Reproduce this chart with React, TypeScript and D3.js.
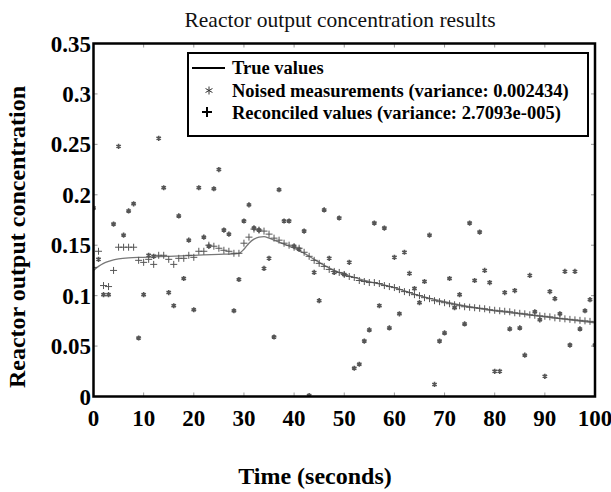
import React from "react";
import * as d3 from "d3";

const title = "Reactor output concentration results";
const xTitle = "Time (seconds)";
const yTitle = "Reactor output concentration";
const xTicks = [0, 10, 20, 30, 40, 50, 60, 70, 80, 90, 100];
const yTicks = [0, 0.05, 0.1, 0.15, 0.2, 0.25, 0.3, 0.35];
const yTickLabels = ["0", "0.05", "0.1", "0.15", "0.2", "0.25", "0.3", "0.35"];
const legendLabels = [
  "True values",
  "Noised measurements (variance: 0.002434)",
  "Reconciled values (variance: 2.7093e-005)",
];

const noised = [
  0.187, 0.136, 0.101, 0.101, 0.171, 0.248, 0.160, 0.184, 0.191, 0.058,
  0.101, 0.140, 0.139, 0.256, 0.207, 0.103, 0.090, 0.179, 0.117, 0.155,
  0.086, 0.207, 0.158, 0.149, 0.206, 0.225, 0.165, 0.161, 0.085, 0.116,
  0.174, 0.190, 0.167, 0.165, 0.127, 0.137, 0.059, 0.205, 0.174, 0.174,
  0.149, 0.146, 0.164, 0.001, 0.123, 0.095, 0.185, 0.137, 0.123, 0.177,
  0.121, 0.133, 0.028, 0.032, 0.055, 0.066, 0.172, 0.090, 0.167, 0.068,
  0.138, 0.082, 0.143, 0.122, 0.107, 0.093, 0.114, 0.160, 0.012, 0.055,
  0.063, 0.117, 0.088, 0.101, 0.072, 0.172, 0.115, 0.163, 0.125, 0.113,
  0.025, 0.025, 0.103, 0.067, 0.105, 0.068, 0.041, 0.120, 0.084, 0.076,
  0.020, 0.104, 0.097, 0.082, 0.124, 0.051, 0.124, 0.067, 0.085, 0.096,
  0.051,
];

const reconciled = [
  0.128, 0.144, 0.110, 0.109, 0.125, 0.148, 0.148, 0.148, 0.148, 0.135,
  0.133, 0.136, 0.131, 0.140, 0.140, 0.136, 0.131, 0.137, 0.137, 0.140,
  0.138, 0.144, 0.144, 0.150, 0.149, 0.147, 0.145, 0.144, 0.142, 0.142,
  0.152, 0.158, 0.166, 0.165, 0.164, 0.161, 0.157, 0.155, 0.152, 0.150,
  0.148, 0.147, 0.143, 0.139, 0.135, 0.132, 0.129, 0.126, 0.124, 0.123,
  0.121, 0.119, 0.118, 0.115, 0.114, 0.113, 0.113, 0.112, 0.110, 0.109,
  0.108, 0.106, 0.104, 0.103, 0.101, 0.100, 0.098, 0.097, 0.095, 0.094,
  0.093, 0.092, 0.091, 0.090, 0.089, 0.0885, 0.088, 0.0875, 0.087, 0.086,
  0.0855, 0.085, 0.0845, 0.084, 0.083, 0.0825, 0.082, 0.081, 0.0805, 0.080,
  0.0795, 0.079, 0.078, 0.0775, 0.077, 0.0765, 0.076, 0.0755, 0.075, 0.0745,
  0.074,
];

const trueTimes = [0, 1, 2, 3, 4, 5, 7, 10, 15, 20, 25, 28, 29, 30, 31, 32, 33, 34, 35, 36, 38, 40, 42, 44, 46, 48, 50, 55, 60, 65, 70, 75, 80, 85, 90, 95, 100];
const trueValues = [0.125, 0.129, 0.132, 0.134, 0.1355, 0.1365, 0.1375, 0.138, 0.139, 0.140, 0.141, 0.1415, 0.142, 0.146, 0.152, 0.156, 0.158, 0.1585, 0.157, 0.155, 0.151, 0.147, 0.142, 0.136, 0.130, 0.125, 0.121, 0.114, 0.108, 0.100, 0.094, 0.089, 0.085, 0.082, 0.079, 0.076, 0.073];

const W = 611;
const H = 492;
const L = 93.5, R = 595, T = 43.5, B = 396.5;

export default function App() {
  const x = d3.scaleLinear().domain([0, 100]).range([L, R]);
  const y = d3.scaleLinear().domain([0, 0.35]).range([B, T]);
  const times = d3.range(0, noised.length);

  const line = d3
    .line<number>()
    .x((_, i) => x(trueTimes[i]))
    .y((d) => y(d))
    .curve(d3.curveMonotoneX);

  const star = (cx: number, cy: number, r: number) => {
    const parts: string[] = [];
    [90, 30, -30].forEach((a) => {
      const rad = (a * Math.PI) / 180;
      const dx = r * Math.cos(rad), dy = r * Math.sin(rad);
      parts.push(`M${cx - dx},${cy - dy}L${cx + dx},${cy + dy}`);
    });
    return parts.join("");
  };
  const plus = (cx: number, cy: number, r: number) =>
    `M${cx - r},${cy}L${cx + r},${cy}M${cx},${cy - r}L${cx},${cy + r}`;

  const serif = "'Liberation Serif', 'Times New Roman', serif";

  return (
    <svg width={W} height={H} style={{ position: "absolute", left: 0, top: 0, background: "#fff" }}>
      <rect x={0} y={0} width={W} height={H} fill="#fff" />
      <text x={340} y={27} textAnchor="middle" fontFamily={serif} fontSize={21.5} fill="#111">
        {title}
      </text>
      <defs>
        <clipPath id="plotclip">
          <rect x={L} y={T} width={R - L} height={B - T} />
        </clipPath>
      </defs>
      {xTicks.map((t) => (
        <g key={"xt" + t} stroke="#999" strokeWidth={1}>
          <line x1={x(t)} x2={x(t)} y1={B} y2={B - 4} />
          <line x1={x(t)} x2={x(t)} y1={T} y2={T + 4} />
        </g>
      ))}
      {yTicks.map((t) => (
        <g key={"yt" + t} stroke="#999" strokeWidth={1}>
          <line x1={L} x2={L + 4} y1={y(t)} y2={y(t)} />
          <line x1={R} x2={R - 4} y1={y(t)} y2={y(t)} />
        </g>
      ))}
      <g clipPath="url(#plotclip)">
        <path d={line(trueValues) || ""} fill="none" stroke="#777" strokeWidth={1.3} />
        {reconciled.map((v, i) => (
          <path key={"r" + i} d={plus(x(times[i]), y(v), 3.5)} stroke="#555" strokeWidth={1} fill="none" />
        ))}
        {noised.map((v, i) => (
          <path key={"n" + i} d={star(x(times[i]), y(v), 2.6)} stroke="#555" strokeWidth={1.6} fill="none" />
        ))}
      </g>
      <rect x={L} y={T} width={R - L} height={B - T} fill="none" stroke="#000" strokeWidth={2.5} />
      <rect x={188} y={53} width={400} height={83} fill="#fff" stroke="#000" strokeWidth={2} />
      <line x1={192} x2={225} y1={68} y2={68} stroke="#000" strokeWidth={2} />
      <path d={star(209, 90.5, 4)} stroke="#333" strokeWidth={1} fill="none" />
      <path d={plus(207, 112, 5)} stroke="#000" strokeWidth={2} fill="none" />
      {legendLabels.map((s, i) => (
        <text key={s} x={232} y={74 + i * 22.5} fontFamily={serif} fontWeight="bold" fontSize={18.5} fill="#000">
          {s}
        </text>
      ))}
      {xTicks.map((t) => (
        <text key={"xl" + t} x={x(t)} y={426} textAnchor="middle" fontFamily={serif} fontWeight="bold" fontSize={23} fill="#000">
          {t}
        </text>
      ))}
      {yTicks.map((t, i) => (
        <text key={"yl" + t} x={91} y={y(t) + 8} textAnchor="end" fontFamily={serif} fontWeight="bold" fontSize={23} fill="#000">
          {yTickLabels[i]}
        </text>
      ))}
      <text x={315} y={484} textAnchor="middle" fontFamily={serif} fontWeight="bold" fontSize={24} fill="#000">
        {xTitle}
      </text>
      <text transform="translate(25,237) rotate(-90)" textAnchor="middle" fontFamily={serif} fontWeight="bold" fontSize={24} fill="#000">
        {yTitle}
      </text>
    </svg>
  );
}
